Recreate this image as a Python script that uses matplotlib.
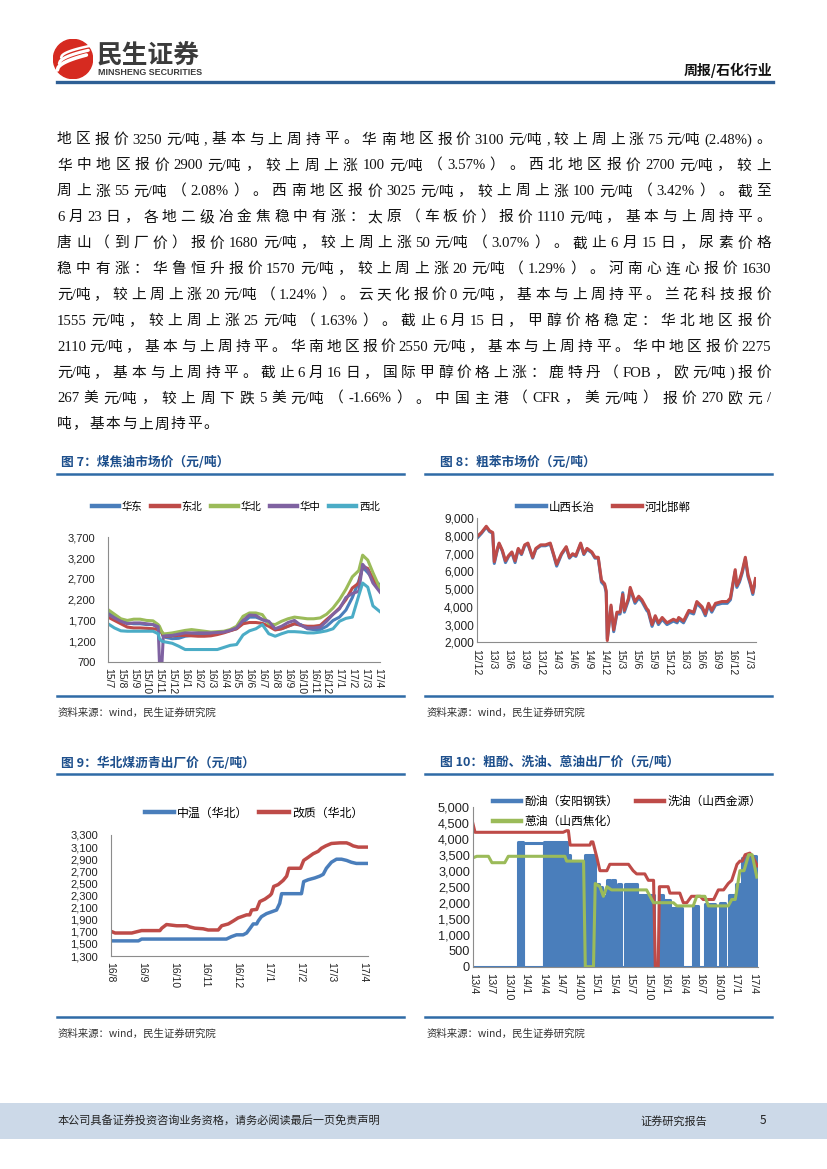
import re
import numpy as np
import matplotlib
matplotlib.use('Agg')
import matplotlib.pyplot as plt
from matplotlib.lines import Line2D
from matplotlib.patches import Circle, Rectangle
from matplotlib.ticker import FuncFormatter

# ---------------- data ----------------
body_lines = [
    "地区报价3250 元/吨,基本与上周持平。华南地区报价3100 元/吨,较上周上涨75 元/吨(2.48%)。",
    "华中地区报价 2900 元/吨，较上周上涨 100 元/吨（3.57%）。西北地区报价 2700 元/吨，较上",
    "周上涨 55 元/吨（2.08%）。西南地区报价 3025 元/吨，较上周上涨 100 元/吨（3.42%）。截至",
    "6 月 23 日，各地二级冶金焦稳中有涨：太原（车板价）报价 1110 元/吨，基本与上周持平。",
    "唐山（到厂价）报价 1680 元/吨，较上周上涨 50 元/吨（3.07%）。截止 6 月 15 日，尿素价格",
    "稳中有涨：华鲁恒升报价 1570 元/吨，较上周上涨 20 元/吨（1.29%）。河南心连心报价 1630",
    "元/吨，较上周上涨 20 元/吨（1.24%）。云天化报价 0 元/吨，基本与上周持平。兰花科技报价",
    "1555 元/吨，较上周上涨 25 元/吨（1.63%）。截止 6 月 15 日，甲醇价格稳定：华北地区报价",
    "2110 元/吨，基本与上周持平。华南地区报价 2550 元/吨，基本与上周持平。华中地区报价 2275",
    "元/吨，基本与上周持平。截止 6 月 16 日，国际甲醇价格上涨：鹿特丹（FOB，欧元/吨)报价",
    "267 美元/吨，较上周下跌 5 美元/吨（-1.66%）。中国主港（CFR，美元/吨）报价 270 欧元/",
    "吨，基本与上周持平。",
]

# fig 7: coal tar price, x = months since 2015-07
tar_x = [0, 0.5, 1, 1.5, 2, 2.5, 3, 3.5, 3.9, 4.0, 4.2, 4.3, 4.5, 5, 5.5, 6, 6.5, 7, 7.5, 8,
         8.5, 9, 9.5, 10, 10.5, 11, 11.5, 12, 12.5, 13, 13.5, 14, 14.5, 15, 15.5, 16, 16.5,
         17, 17.5, 18, 18.5, 19, 19.5, 19.8, 20.2, 20.6, 21.15]
tar_huadong = [1880, 1800, 1720, 1640, 1620, 1620, 1600, 1600, 1520, 1480, 1380, 1320, 1290,
               1260, 1270, 1320, 1340, 1350, 1360, 1380, 1400, 1420, 1460, 1500, 1650, 1780,
               1780, 1720, 1650, 1480, 1500, 1560, 1620, 1600, 1500, 1480, 1480, 1560, 1700,
               1780, 1950, 2250, 2650, 2980, 2850, 2700, 2550]
tar_dongbei = [1780, 1700, 1620, 1540, 1520, 1520, 1510, 1500, 1480, 1460, 1420, 1320, 1320,
               1330, 1340, 1340, 1330, 1320, 1320, 1330, 1360, 1400, 1450, 1500, 1620, 1650,
               1650, 1630, 1560, 1470, 1500, 1560, 1620, 1580, 1560, 1560, 1580, 1720, 1850,
               2000, 2200, 2480, 2600, 3000, 2950, 2700, 2420]
tar_huabei = [1960, 1850, 1740, 1700, 1730, 1730, 1700, 1690, 1600, 1560, 1420, 1380, 1380,
              1400, 1430, 1460, 1480, 1460, 1440, 1420, 1430, 1440, 1480, 1560, 1800, 1880,
              1880, 1840, 1620, 1600, 1680, 1740, 1780, 1760, 1740, 1740, 1760, 1850, 2000,
              2200, 2450, 2750, 2900, 3270, 3150, 2850, 2470]
tar_huazhong = [1850, 1760, 1680, 1620, 1640, 1640, 1620, 1600, 1550, 700, 700, 1320, 1330,
                1340, 1370, 1400, 1400, 1400, 1400, 1400, 1410, 1420, 1460, 1520, 1700, 1830,
                1820, 1720, 1680, 1500, 1560, 1650, 1700, 1580, 1520, 1520, 1540, 1680, 1850,
                1980, 2250, 2350, 2400, 3050, 2900, 2600, 2380]
tar_xibei = [1620, 1520, 1450, 1440, 1440, 1440, 1440, 1440, 1380, 1260, 1200, 1190, 1180,
             1150, 1080, 1000, 1000, 1000, 1000, 1000, 1000, 1050, 1100, 1120, 1350, 1450,
             1500, 1600, 1380, 1320, 1380, 1430, 1430, 1420, 1400, 1400, 1420, 1450, 1500,
             1680, 1750, 1780, 2300, 2600, 2500, 2050, 1910]
tar_labels = ['15/7', '15/8', '15/9', '15/10', '15/11', '15/12', '16/1', '16/2', '16/3', '16/4',
              '16/5', '16/6', '16/7', '16/8', '16/9', '16/10', '16/11', '16/12', '17/1', '17/2',
              '17/3', '17/4']

# fig 8: crude benzene, x = months since 2012-12
benz_x = [0, 0.9, 1.8, 2.4, 3.0, 3.3, 3.9, 4.2, 4.8, 5.4, 6.0, 6.6, 7.2, 7.8, 8.4, 9.0, 9.6,
          10.5, 11.1, 12.0, 12.9, 13.8, 14.4, 15.0, 15.9, 16.8, 17.4, 18.0, 18.6, 19.5, 20.1,
          20.7, 21.6, 22.2, 22.8, 23.4, 24.0, 24.3, 24.5, 25.2, 25.7, 26.3, 26.9, 27.4, 27.7,
          28.5, 28.8, 29.7, 30.4, 31.0, 31.9, 32.2, 32.9, 33.5, 34.1, 34.8, 35.7, 36.9, 37.6,
          37.9, 38.8, 39.8, 40.7, 41.3, 42.3, 42.9, 43.5, 44.1, 44.8, 46.0, 47.0, 47.6, 48.5,
          48.8, 49.3, 49.8, 50.4, 50.9, 51.3, 51.8, 52.3]
benz_shanxi = [7850, 8150, 8500, 8250, 8150, 6450, 7250, 7550, 7150, 6500, 6850, 7050, 6500,
               7250, 6950, 7450, 7550, 6750, 7250, 7450, 7450, 7550, 6950, 6300, 6950, 7350,
               6750, 6950, 6850, 7550, 6950, 7250, 7050, 6750, 6750, 5400, 5200, 4800, 2200,
               4000, 2600, 3600, 3600, 4800, 3700, 4400, 5000, 4200, 4500, 4300, 3800, 3700,
               2900, 3400, 3000, 3300, 3000, 3200, 3100, 3300, 3100, 3700, 3600, 4200, 3900,
               3500, 4100, 3700, 4100, 4200, 4200, 4400, 6000, 5100, 5400, 5900, 6700, 5700,
               5300, 4700, 5500]
benz_hebei = [7950, 8200, 8550, 8300, 8200, 6550, 7300, 7600, 7200, 6600, 6900, 7100, 6600,
              7300, 7000, 7500, 7600, 6800, 7300, 7500, 7500, 7600, 7000, 6400, 7000, 7400,
              6800, 7000, 6900, 7600, 7000, 7300, 7100, 6800, 6800, 5500, 5300, 4900, 2100,
              4100, 2700, 3700, 3700, 4700, 3800, 4500, 5100, 4300, 4600, 4400, 3900, 3800,
              3000, 3500, 3100, 3400, 3100, 3300, 3200, 3400, 3200, 3800, 3700, 4300, 4000,
              3600, 4200, 3800, 4200, 4300, 4300, 4500, 6100, 5200, 5500, 6000, 6800, 5800,
              5400, 4800, 5600]
benz_labels = ['12/12', '13/3', '13/6', '13/9', '13/12', '14/3', '14/6', '14/9', '14/12',
               '15/3', '15/6', '15/9', '15/12', '16/3', '16/6', '16/9', '16/12', '17/3']

# fig 9: coal pitch, x = months since 2016-08
mid_x = [0, 0.88, 0.98, 3.67, 3.83, 3.99, 4.20, 4.31, 4.41, 4.52, 4.63, 4.68, 4.78, 4.94, 5.10,
         5.26, 5.36, 5.42, 6.05, 6.12, 6.26, 6.47, 6.63, 6.74, 6.84, 7.00, 7.16, 7.32, 7.48,
         7.63, 7.79, 8.16]
mid_temp = [1550, 1550, 1580, 1580, 1620, 1650, 1650, 1680, 1750, 1830, 1830, 1880, 1950, 2000,
            2030, 2060, 2170, 2330, 2330, 2530, 2560, 2590, 2620, 2650, 2750, 2850, 2900, 2900,
            2880, 2850, 2830, 2830]
mod_x = [0, 0.14, 0.67, 0.82, 0.98, 1.56, 1.62, 1.77, 1.93, 2.09, 2.41, 2.51, 2.67, 2.93, 3.09,
         3.41, 3.52, 3.73, 3.89, 4.04, 4.15, 4.31, 4.41, 4.47, 4.63, 4.73, 4.89, 5.05, 5.10,
         5.17, 5.31, 5.47, 5.58, 5.65, 6.02, 6.12, 6.26, 6.42, 6.58, 6.68, 6.82, 7.00, 7.27,
         7.48, 7.58, 7.69, 7.85, 8.16]
modified = [1710, 1680, 1680, 1700, 1720, 1720, 1760, 1820, 1810, 1800, 1800, 1780, 1760, 1750,
            1730, 1730, 1800, 1830, 1880, 1930, 1950, 1980, 1980, 2060, 2070, 2200, 2240, 2300,
            2330, 2450, 2480, 2550, 2620, 2750, 2750, 2880, 2930, 2990, 3030, 3080, 3120, 3160,
            3170, 3170, 3150, 3120, 3100, 3100]
pitch_labels = ['16/8', '16/9', '16/10', '16/11', '16/12', '17/1', '17/2', '17/3', '17/4']

# fig 10: phenol / wash oil / anthracene oil, x = months since 2013-04
# phenol oil jumps between a price and 0 almost daily: (start, end, price, solid block?)
phenol_blocks = [(7.8, 8.7, 3900, True), (8.7, 12.2, 3880, False), (12.2, 16.1, 3900, True),
                 (16.1, 16.7, 3500, True), (16.7, 18.8, 3300, True), (19.3, 21.0, 3500, True),
                 (21.0, 21.6, 2600, True), (21.8, 22.2, 2500, True), (22.5, 23.0, 2200, True),
                 (23.0, 23.6, 2700, True), (23.8, 24.4, 2700, True), (24.9, 25.5, 2600, True),
                 (26.1, 26.9, 2600, True), (27.1, 28.1, 2600, True), (28.4, 29.3, 2250, True),
                 (29.5, 30.2, 2250, True), (30.4, 31.0, 2250, True), (32.0, 32.6, 2250, True),
                 (32.8, 33.8, 2080, True), (34.0, 34.8, 1850, True), (35.0, 35.8, 1850, True),
                 (37.8, 38.7, 1900, True), (39.9, 40.6, 1950, True), (40.8, 41.5, 1950, True),
                 (42.4, 43.3, 2000, True), (43.9, 44.8, 2250, True), (45.1, 45.8, 2600, True),
                 (46.2, 46.9, 3400, True), (47.0, 47.6, 3500, True), (48.0, 48.6, 3450, True),
                 (48.6, 48.8, 2750, True)]
wash_x = [0, 0.4, 15.5, 16.1, 16.4, 16.7, 20.1, 20.3, 20.6, 21.3, 21.8, 23.0, 23.5, 26.7, 27.5,
          28.1, 29.5, 30.1, 31.0, 31.3, 31.8, 32.0, 33.5, 33.8, 35.5, 36.1, 36.7, 37.5, 39.0,
          39.5, 41.3, 42.1, 43.0, 43.8, 44.4, 45.3, 45.8, 46.2, 46.7, 47.5, 48.1, 48.8]
wash_y = [4500, 4200, 4200, 4250, 4250, 3800, 3800, 3900, 3900, 3400, 3000, 3000, 3200, 3200,
          3000, 2900, 2900, 2700, 2700, 0, 0, 2500, 2500, 2300, 2300, 2000, 2000, 2200, 2200,
          2100, 2100, 2400, 2400, 2600, 2700, 3200, 3300, 3300, 3500, 3550, 3400, 3150]
anth_x = [0, 0.7, 2.7, 3.3, 5.5, 6.1, 15.8, 16.1, 19.0, 19.3, 20.7, 21.0, 21.8, 22.4, 23.0,
          23.8, 29.8, 31.0, 34.4, 35.0, 37.8, 38.4, 39.8, 40.4, 43.8, 44.4, 45.0, 45.8, 46.5,
          47.3, 47.9, 48.7]
anth_y = [3400, 3450, 3450, 3250, 3250, 3450, 3450, 3300, 3300, 0, 0, 2600, 2500, 2200, 2500,
          2400, 2400, 2000, 2000, 1900, 1900, 2200, 2200, 1900, 1900, 2100, 2100, 3000, 3000,
          3500, 3500, 2800]
oil_labels = ['13/4', '13/7', '13/10', '14/1', '14/4', '14/7', '14/10', '15/1', '15/4', '15/7',
              '15/10', '16/1', '16/4', '16/7', '16/10', '17/1', '17/4']

# ---------------- page ----------------
W, H = 827, 1169
CJK = ['Noto Sans CJK SC', 'DejaVu Sans']
plt.rcParams['font.family'] = ['Liberation Sans', 'Noto Sans CJK SC']

BLUE, RED, GREEN, PURPLE, CYAN = '#4A7EBB', '#BE4B48', '#9BBB59', '#7F62A1', '#4BACC6'
TITLE_C, RULE_C = '#1D4F8C', '#2F6BA6'

fig = plt.figure(figsize=(W / 100, H / 100), dpi=100)


def fx(x):
    return x / W


def fy(y):
    return 1 - y / H


def add_ax(x0, y0, x1, y1):
    return fig.add_axes([fx(x0), fy(y1), (x1 - x0) / W, (y1 - y0) / H])


def hline(x0, x1, y, color, lw):
    fig.add_artist(Line2D([fx(x0), fx(x1)], [fy(y), fy(y)], color=color, lw=lw,
                          transform=fig.transFigure))


def style_axes(ax, labels, step, xmax, ylim, ystep, ypad, ysize=8, xsize=7.5):
    ax.set_xlim(0, xmax)
    ax.set_ylim(*ylim)
    ax.set_yticks(np.arange(ylim[0], ylim[1] + 1, ystep))
    ax.yaxis.set_major_formatter(FuncFormatter(lambda v, p: f'{int(v):,}'))
    ax.set_xticks(np.arange(len(labels)) * step)
    ax.set_xticklabels(labels, rotation=270, fontsize=xsize)
    ax.tick_params(axis='y', length=0, pad=ypad, labelsize=ysize, colors='#222222')
    ax.tick_params(axis='x', length=0, pad=4.5, colors='#222222')
    for s in ['top', 'right']:
        ax.spines[s].set_visible(False)
    for s in ['left', 'bottom']:
        ax.spines[s].set_color('#8c8c8c')
        ax.spines[s].set_linewidth(0.8)
    ax.patch.set_alpha(0)


def legend(ax, cx, cy, ncol, size, hl, colsp, handles=None, labels=None):
    kw = dict(loc='center', bbox_to_anchor=(fx(cx), fy(cy)), bbox_transform=fig.transFigure,
              ncol=ncol, frameon=False, handlelength=hl, handletextpad=0.25,
              columnspacing=colsp, borderpad=0, labelspacing=0.6,
              prop={'family': CJK, 'size': size})
    if handles is None:
        leg = ax.legend(**kw)
    else:
        leg = ax.legend(handles, labels, **kw)
    for h in leg.get_lines():
        h.set_linewidth(3.2)


# header
logo = add_ax(53, 39, 93, 79)
logo.set_xlim(-1, 1)
logo.set_ylim(-1, 1)
logo.set_aspect('equal')
logo.axis('off')
logo.add_patch(Circle((0, 0), 0.98, color='#D62A20'))
t = np.linspace(0, 1, 40)
for off, lw in [(0.0, 2.6), (0.32, 2.2), (0.62, 1.8)]:
    logo.plot(-0.78 + 1.45 * t + off * 0.3, -0.55 + off + 0.75 * np.sqrt(t) * (1 - 0.35 * off),
              color='white', lw=lw, solid_capstyle='round')
fig.text(fx(97), fy(55), '民生证券', fontsize=18.5, fontweight='bold', color='#3b3b3b',
         family=CJK, va='center')
fig.text(fx(97.5), fy(72.5), 'MINSHENG SECURITIES', fontsize=6.4, fontweight='bold',
         color='#3b3b3b', family='Liberation Sans', va='center')
fig.text(fx(772), fy(70), '周报/石化行业', fontsize=10, fontweight='bold', color='#111111',
         family=CJK, ha='right', va='center')
hline(57, 773, 82, '#2E5F95', 2.4)

# body text, justified across the column
renderer = fig.canvas.get_renderer()
for i, line in enumerate(body_lines):
    y = 140 + i * 25.9
    toks = re.findall(r'\S/\S|[!-~]+|\S', line)
    texts = [fig.text(0, fy(y), tk, fontsize=10.6, color='#111111', va='center',
                      family=['Liberation Serif', 'Noto Sans CJK SC']) for tk in toks]
    widths = [tx.get_window_extent(renderer).width for tx in texts]
    last = i == len(body_lines) - 1
    gap = 1.5 if last else (771 - 57 - sum(widths)) / (len(texts) - 1)
    x = 57
    for tx, w in zip(texts, widths):
        tx.set_x(fx(x))
        x += w + gap

# figure titles, rules and sources
for x0, x1, tx, ty, title in [(57, 404, 61, 463, '图 7：煤焦油市场价（元/吨）'),
                              (425, 772, 440, 463, '图 8：粗苯市场价（元/吨）'),
                              (57, 404, 61, 763, '图 9：华北煤沥青出厂价（元/吨）'),
                              (425, 772, 440, 763, '图 10：粗酚、洗油、蒽油出厂价（元/吨）')]:
    fig.text(fx(tx), fy(ty), title, fontsize=9.2, fontweight='bold', color=TITLE_C,
             family=CJK, va='center')
    hline(x0, x1, ty + 11, RULE_C, 1.8)
for x0, x1, sx, y in [(57, 404, 58, 696), (425, 772, 427, 696),
                      (57, 404, 58, 1016.5), (425, 772, 427, 1016.5)]:
    hline(x0, x1, y, RULE_C, 1.8)
    fig.text(fx(sx), fy(y + 17), '资料来源：wind，民生证券研究院', fontsize=7.5,
             color='#333333', family=CJK, va='center')

# fig 7
ax7 = add_ax(108, 537.3, 380, 662)
ax7.plot(tar_x, tar_huadong, color=BLUE, lw=2.2, label='华东')
ax7.plot(tar_x, tar_dongbei, color=RED, lw=2.2, label='东北')
ax7.plot(tar_x, tar_huabei, color=GREEN, lw=2.2, label='华北')
ax7.plot(tar_x, tar_huazhong, color=PURPLE, lw=2.2, label='华中')
ax7.plot(tar_x, tar_xibei, color=CYAN, lw=2.2, label='西北')
style_axes(ax7, tar_labels, 1, 21.15, (700, 3700), 500, 9)
legend(ax7, 236, 507, 5, 7.5, 2.6, 0.85)

# fig 8
ax8 = add_ax(476.7, 518.3, 756, 642.3)
ax8.plot(benz_x, benz_shanxi, color=BLUE, lw=2.2, label='山西长治')
ax8.plot(benz_x, benz_hebei, color=RED, lw=2.2, label='河北邯郸')
style_axes(ax8, benz_labels, 3, 52.4, (2000, 9000), 1000, 2, ysize=8.6)
legend(ax8, 604, 507, 2, 8.3, 2.5, 1.6)

# fig 9
ax9 = add_ax(110.7, 835, 368, 956)
ax9.plot(mid_x, mid_temp, color=BLUE, lw=2.5, label='中温（华北）')
ax9.plot(mod_x, modified, color=RED, lw=2.5, label='改质（华北）')
style_axes(ax9, pitch_labels, 1, 8.16, (1300, 3300), 200, 9)
legend(ax9, 254, 813, 2, 8.6, 2.5, 0.9)

# fig 10
ax10 = add_ax(472.7, 806.7, 758, 966.7)
ax10.plot([0, 48.8], [0, 0], color=BLUE, lw=2.2)
for x0, x1, lvl, solid in phenol_blocks:
    if solid:
        ax10.bar(x0, lvl, width=x1 - x0, align='edge', color=BLUE, lw=0)
    ax10.plot([x0, x0, x1, x1], [0, lvl, lvl, 0], color=BLUE, lw=2.2)
l1 = Line2D([], [], color=BLUE)
l2, = ax10.plot(wash_x, wash_y, color=RED, lw=2.2)
l3, = ax10.plot(anth_x, anth_y, color=GREEN, lw=2.2)
style_axes(ax10, oil_labels, 3, 48.9, (0, 5000), 500, 2, ysize=9.2, xsize=7.8)
legend(ax10, 627, 811.5, 2, 8.5, 2.4, 1.5, [l1, l3, l2],
       ['酚油（安阳钢铁）', '蒽油（山西焦化）', '洗油（山西金源）'])

# footer
fig.add_artist(Rectangle((0, fy(1139)), 1, 36 / H, transform=fig.transFigure,
                         color='#CCD9E8', lw=0))
fig.text(fx(58), fy(1121), '本公司具备证券投资咨询业务资格，请务必阅读最后一页免责声明',
         fontsize=8, color='#222222', family=CJK, va='center')
fig.text(fx(640), fy(1121), '证券研究报告', fontsize=8, color='#222222', family=CJK, va='center')
fig.text(fx(760), fy(1121), '5', fontsize=8.5, color='#222222', family=CJK, va='center')

fig.savefig('out.png', dpi=100)
